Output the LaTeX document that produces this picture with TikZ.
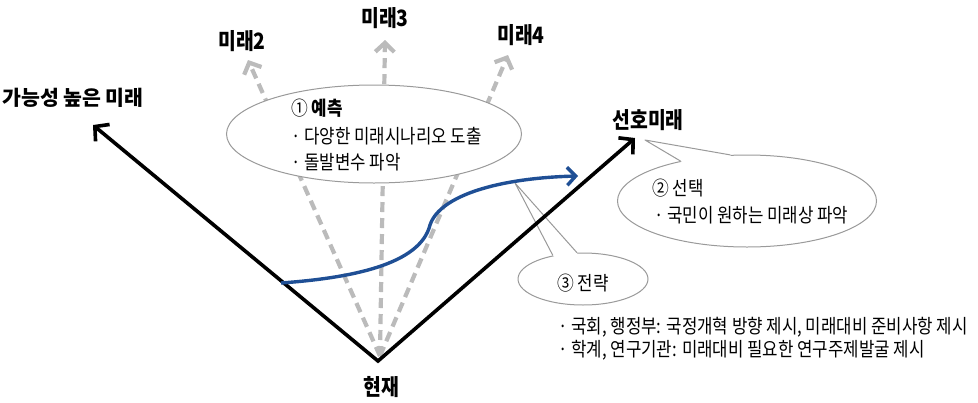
\documentclass[tikz,border=0pt]{standalone}
\usepackage{fontspec}
\newfontfamily\krc[FakeStretch=0.86]{Noto Sans CJK KR}
\newfontfamily\kr{Noto Sans CJK KR}
\usetikzlibrary{arrows.meta,shapes.geometric,calc}
\definecolor{bluepath}{HTML}{1F4F95}
\definecolor{dashgray}{HTML}{BBBBBB}
\definecolor{rimgray}{HTML}{9A9A9A}
\begin{document}
\begin{tikzpicture}[x=1pt,y=-1pt,
  lbl/.style={font=\krc\fontsize{22.5}{24}\selectfont\bfseries, inner sep=0},
  txt/.style={font=\krc\fontsize{19.5}{22}\selectfont, inner sep=0, anchor=west},
  bubble/.style={ellipse, draw=rimgray, line width=1pt, fill=white, inner sep=0},
  tailline/.style={draw=rimgray, line width=1pt, line join=round},
  futurearrow/.style={draw=dashgray, line width=4.2pt, dash pattern=on 10pt off 6pt, -{Straight Barb[length=9pt,width=19pt]}},
  mainarrow/.style={draw=black, line width=3.6pt, line join=miter, {Straight Barb[length=10pt,width=22pt]}-{Straight Barb[length=10pt,width=22pt]}},
  strategy/.style={draw=bluepath, line width=3.4pt, -{Straight Barb[length=8.5pt,width=18pt]}}
]
\useasboundingbox (0,0) rectangle (978,402);

% labels
\node[lbl] (m2) at (242,41) {미래2};
\node[lbl] (m3) at (385,18) {미래3};
\node[lbl] (m4) at (521,35) {미래4};
\node[font=\kr\fontsize{20.5}{22}\selectfont\bfseries, inner sep=0] (pl) at (73,98) {가능성 높은 미래};
\node[lbl] (pf) at (648,120) {선호미래};
\node[lbl] (now) at (381,387) {현재};

% coordinates
\coordinate (apex) at (378,361);
\coordinate (g0) at (380,356);
\coordinate (tL) at (93,125);
\coordinate (tR) at (635,138);
\coordinate (t2) at (248,60);
\coordinate (t3) at (385,40);
\coordinate (t4) at (508,55);
\coordinate (tip2) at (645,140);
\coordinate (tip3) at (515,183);

% dashed future arrows
\draw[futurearrow] (g0) -- (t2);
\draw[futurearrow] (g0) -- (t3);
\draw[futurearrow] (g0) -- (t4);

% bubble 1
\node[bubble, minimum width=295pt, minimum height=98pt] (e1) at (374,134) {};

% bubble 3 with tail
\node[bubble, minimum width=130pt, minimum height=52pt] (e3) at (583,279) {};
\fill[white] (e3.142) -- (tip3) -- (e3.103) -- (e3.center) -- cycle;
\draw[tailline] (e3.142) -- (tip3) -- (e3.103);

% main V
\draw[mainarrow] (tL) -- (apex) -- (tR);

% blue path
\coordinate (b0) at (281,283);
\coordinate (b1) at (430,225);
\coordinate (b2) at (578,176);
\draw[strategy] (b0) .. controls (350,278) and (420,265) .. (b1)
                     .. controls (440,195) and (500,178) .. (b2);

% bubble 2 with tail
\node[bubble, minimum width=259pt, minimum height=92pt] (e2) at (747,201) {};
\fill[white] (e2.149) -- (tip2) -- (e2.110) -- (e2.center) -- cycle;
\draw[tailline] (e2.149) -- (tip2) -- (e2.110);

% texts
\node[txt] (p1) at (291,108) {① {\bfseries 예측}};
\node[txt] (p1a) at (291,136) {· 다양한 미래시나리오 도출};
\node[txt] (p1b) at (291,162) {· 돌발변수 파악};
\node[txt] (p2) at (652,188) {② 선택};
\node[txt] (p2a) at (654,215) {· 국민이 원하는 미래상 파악};
\node[txt] (p3) at (557,283) {③ 전략};
\node[txt] (s1) at (558,327) {· 국회, 행정부: 국정개혁 방향 제시, 미래대비 준비사항 제시};
\node[txt] (s2) at (558,350) {· 학계, 연구기관: 미래대비 필요한 연구주제발굴 제시};
\end{tikzpicture}
\end{document}
